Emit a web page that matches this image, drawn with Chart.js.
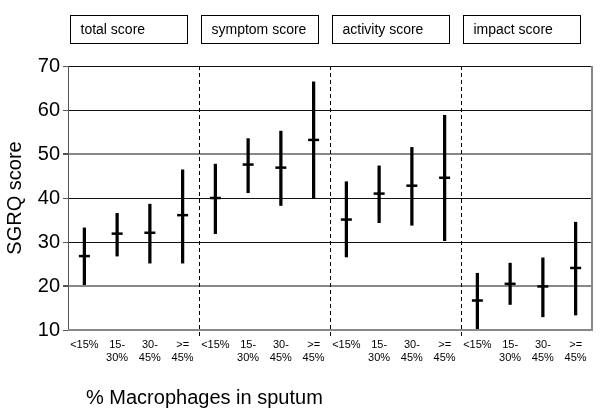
<!DOCTYPE html>
<html>
<head>
<meta charset="utf-8">
<script src="https://cdn.jsdelivr.net/npm/chart.js@4"></script>
<style>
  body { margin: 0; background: #fff; }
  #wrap { width: 600px; height: 417px; }
</style>
</head>
<body>
<div id="wrap"><canvas id="chart" width="600" height="417"></canvas></div>
<script>
// scores per group, 4 macrophage classes each
var groups = ['total score', 'symptom score', 'activity score', 'impact score'];
var classes = [['<15%'], ['15-', '30%'], ['30-', '45%'], ['>=', '45%']];
var means = [26.8, 31.9, 32.1, 36.1, 40.0, 47.6, 46.9, 53.2, 35.1, 41.0, 42.8, 44.6, 16.7, 20.5, 19.9, 24.1];
var lows = [20.3, 26.8, 25.2, 25.2, 31.9, 41.2, 38.3, 39.9, 26.6, 34.4, 33.8, 30.3, 10.3, 15.8, 13.0, 13.4];
var highs = [33.2, 36.5, 38.6, 46.4, 47.7, 53.5, 55.2, 66.4, 43.7, 47.3, 51.5, 58.8, 22.9, 25.2, 26.4, 34.5];
var yTicks = [10, 20, 30, 40, 50, 60, 70];

var labels = [];
var ranges = [];
for (var i = 0; i < means.length; i++) {
  labels.push(classes[i % classes.length]);
  ranges.push([lows[i], highs[i]]);
}

// dashed separators, group boxes, frame and x title
var extras = {
  id: 'extras',
  afterDraw: function(chart) {
    var ctx = chart.ctx;
    var a = chart.chartArea;
    var x = chart.scales.x;
    ctx.save();
    ctx.strokeStyle = '#888';
    ctx.lineWidth = 2;
    ctx.beginPath();
    ctx.moveTo(a.right, a.top);
    ctx.lineTo(a.right, a.bottom);
    ctx.lineTo(a.left, a.bottom);
    ctx.stroke();

    ctx.strokeStyle = '#000';
    ctx.lineWidth = 1;
    ctx.setLineDash([4, 3]);
    for (var g = 1; g < groups.length; g++) {
      var px = Math.round((x.getPixelForValue(g * 4 - 1) + x.getPixelForValue(g * 4)) / 2) + 0.5;
      ctx.beginPath();
      ctx.moveTo(px, a.top);
      ctx.lineTo(px, a.bottom + 6);
      ctx.stroke();
    }
    ctx.setLineDash([]);

    ctx.font = '14px "Liberation Sans", Arial, sans-serif';
    ctx.textBaseline = 'middle';
    ctx.fillStyle = '#000';
    for (var g = 0; g < groups.length; g++) {
      var left = g === 0 ? a.left : (x.getPixelForValue(g * 4 - 1) + x.getPixelForValue(g * 4)) / 2;
      var bx = Math.round(left) + 2.5;
      ctx.strokeRect(bx, 15.5, 117, 28);
      ctx.fillText(groups[g], bx + 10, 30);
    }

    ctx.font = '20px "Liberation Sans", Arial, sans-serif';
    ctx.textBaseline = 'alphabetic';
    ctx.fillText('% Macrophages in sputum', 86, 404);
    ctx.restore();
  }
};

var ctx = document.getElementById('chart').getContext('2d');
var chart = new Chart(ctx, {
  data: {
    labels: labels,
    datasets: [{
      type: 'line',
      data: means,
      showLine: false,
      pointStyle: 'line',
      pointRadius: 5.5,
      borderColor: '#000',
      pointBorderWidth: 2.5,
      order: 0
    }, {
      type: 'bar',
      data: ranges,
      backgroundColor: '#000',
      barThickness: 2.6,
      order: 1
    }]
  },
  plugins: [extras],
  options: {
    responsive: false,
    animation: false,
    layout: { padding: { top: 66, right: 7, left: 0, bottom: 0 } },
    plugins: { legend: { display: false }, tooltip: { enabled: false } },
    scales: {
      x: {
        grid: { display: false, drawTicks: false },
        border: { display: false },
        ticks: {
          color: '#000',
          font: { size: 11, family: '"Liberation Sans", Arial, sans-serif' },
          padding: 8,
          maxRotation: 0,
          autoSkip: false
        },
        afterFit: function(s) { s.height = 87; }
      },
      y: {
        min: 10,
        max: 70,
        afterBuildTicks: function(s) { s.ticks = yTicks.map(function(v) { return { value: v }; }); },
        grid: {
          color: function(c) { return (c.tick && (c.tick.value === 50 || c.tick.value === 20)) ? '#888' : '#111'; },
          lineWidth: function(c) { return (c.tick && (c.tick.value === 50 || c.tick.value === 20)) ? 2 : 1; },
          tickLength: 5,
          tickColor: '#555'
        },
        border: { color: '#555', width: 1 },
        ticks: {
          color: '#000',
          font: { size: 20, family: '"Liberation Sans", Arial, sans-serif' },
          padding: 3
        },
        title: {
          display: true,
          text: 'SGRQ score',
          color: '#000',
          font: { size: 20, family: '"Liberation Sans", Arial, sans-serif' },
          padding: { top: 3, bottom: 2 }
        },
        afterFit: function(s) { s.width = 68; }
      }
    }
  }
});
</script>
</body>
</html>
